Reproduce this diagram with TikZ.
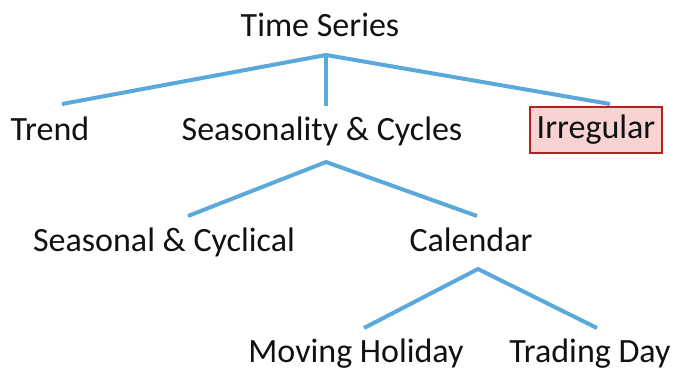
\documentclass[tikz,border=0pt]{standalone}
\usepackage{fontspec}
\setmainfont{Carlito}
\usetikzlibrary{calc}
\definecolor{branch}{HTML}{5BA9DA}
\definecolor{alertfill}{HTML}{F8D3D1}
\definecolor{alertline}{HTML}{B2221E}
\definecolor{ink}{HTML}{111111}

\begin{document}
\begin{tikzpicture}[x=0.5pt,y=-0.5pt,
    lbl/.style={font=\fontsize{17}{20}\selectfont, text=ink, inner sep=0pt, anchor=base},
    link/.style={branch, line width=2pt}]
  \useasboundingbox (0,0) rectangle (675,371);
  \node[lbl] (ts) at (320,36) {Time Series};
  \node[lbl] (trend) at (50,140) {Trend};
  \node[lbl] (seas) at (322,140) {Seasonality \& Cycles};
  \node[lbl, anchor=center, draw=alertline, line width=1pt, fill=alertfill,
        minimum width=66pt, minimum height=23pt] (irr) at (596,130) {Irregular};
  \node[lbl] (seacyc) at (164,251) {Seasonal \& Cyclical};
  \node[lbl] (cal) at (471,251) {Calendar};
  \node[lbl] (moving) at (356,362) {Moving Holiday};
  \node[lbl] (trading) at (590,362) {Trading Day};
  % joints and line ends
  \coordinate (tsHub) at (326,55);
  \coordinate (trendTop) at (62,104);
  \coordinate (seasTop) at (326,106);
  \coordinate (irrTop) at (610,104);
  \coordinate (seasHub) at (326,162);
  \coordinate (seacycTop) at (188,216);
  \coordinate (calTop) at (477,216);
  \coordinate (calHub) at (478,269);
  \coordinate (movingTop) at (364,328);
  \coordinate (tradingTop) at (597,328);
  \draw[link] (trendTop) -- (tsHub) -- (irrTop);
  \draw[link] (tsHub) -- (seasTop);
  \draw[link] (seacycTop) -- (seasHub) -- (calTop);
  \draw[link] (movingTop) -- (calHub) -- (tradingTop);
\end{tikzpicture}
\end{document}
